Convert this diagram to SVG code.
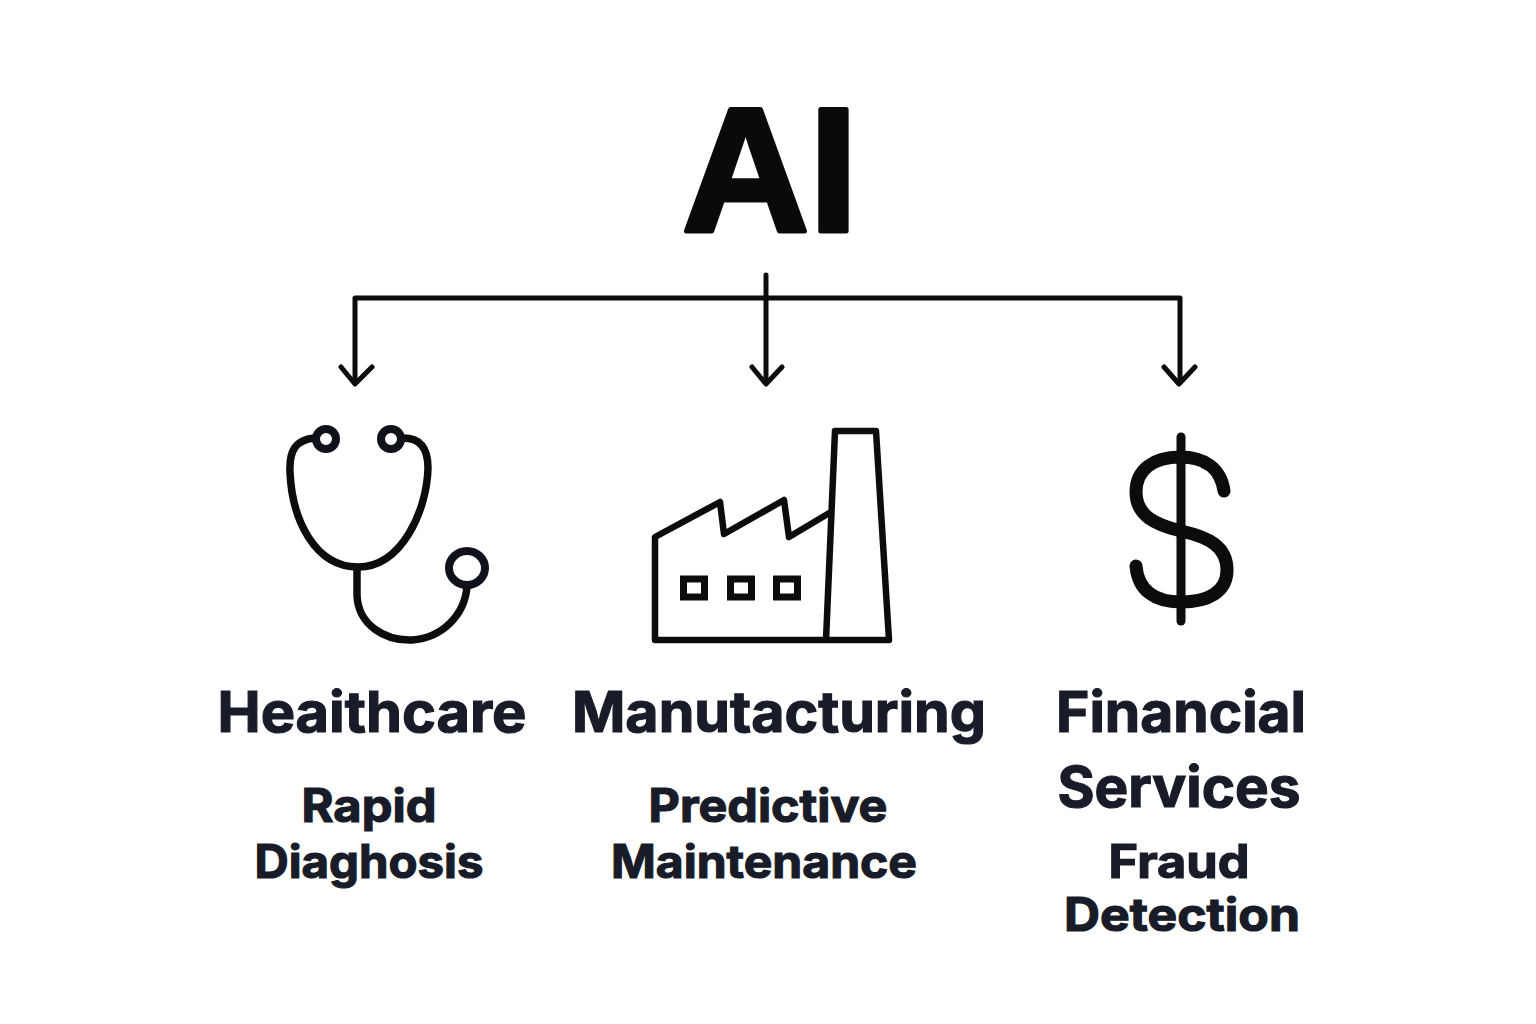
<svg xmlns="http://www.w3.org/2000/svg" width="1536" height="1024" viewBox="0 0 1536 1024">
<style>
.t{font-family:"Inter","Liberation Sans",sans-serif;fill:#181c28;stroke:#181c28;stroke-width:1.2;text-anchor:middle;font-weight:700}
.h{font-size:56px}
.s{font-size:46px}
.l{fill:none;stroke:#0c0c0c;stroke-width:5;stroke-linecap:round;stroke-linejoin:round}
.i{fill:none;stroke:#0c0c0c;stroke-width:6.5;stroke-linejoin:round;stroke-linecap:round}
.c{stroke-width:7.5}
.w{stroke-width:7;stroke-linejoin:miter}
.e{fill:#fff;stroke:#10121a;stroke-width:8}
</style>
<rect width="1536" height="1024" fill="#fff"/>
<g id="root"><text x="682" y="231" font-family="'Liberation Sans',Arial,sans-serif" font-weight="700" font-size="176" text-anchor="start" fill="#0a0a0a" stroke="#0a0a0a" stroke-width="5" stroke-linejoin="round">AI</text></g>
<g id="connectors">
<path class="l" d="M766 275V382M355 381V298H1180V381"/>
<path class="l" d="M341 367L355 384L372 367M752 367L766 384L782 367M1164 367L1179 384L1195 367"/>
</g>
<g id="healthcare">
<path class="i c" d="M314 438C296 440 289 450 290 472C292 520 315 567 358 567C402 567 427 510 428 468C428 448 420 438 403 438"/>
<circle class="e" cx="326" cy="439" r="10"/><circle class="e" cx="391" cy="439" r="10"/>
<path class="i c" d="M357 568V595C358 625 385 641 412 640C442 638 465 615 467 586"/>
<ellipse class="e" cx="467" cy="568" rx="18" ry="17"/>
<text class="t h" x="372" y="732" textLength="309" lengthAdjust="spacingAndGlyphs">Heaithcare</text>
<text class="t s" x="369" y="822" textLength="135" lengthAdjust="spacingAndGlyphs">Rapid</text><text class="t s" x="369" y="878" textLength="229" lengthAdjust="spacingAndGlyphs">Diaghosis</text>
</g>
<g id="manufacturing">
<path class="i" d="M655 640V537L720 502L724 534L784 500L789 537L831 512M835 431H876L889 640H655M835 431L826 640"/>
<rect class="i w" x="683.500" y="579" width="21" height="18"/><rect class="i w" x="730.500" y="579" width="21" height="18"/><rect class="i w" x="776.500" y="579" width="21" height="18"/>
<text class="t h" x="779" y="732" textLength="414" lengthAdjust="spacingAndGlyphs">Manutacturing</text>
<text class="t s" x="768" y="822" textLength="239" lengthAdjust="spacingAndGlyphs">Predictive</text><text class="t s" x="764" y="878" textLength="306" lengthAdjust="spacingAndGlyphs">Maintenance</text>
</g>
<g id="financial">
<path d="M1181 437V621" fill="none" stroke="#0c0c0c" stroke-width="9" stroke-linecap="round"/>
<path d="M1224 491C1221 468 1204 457 1180 457C1153 457 1136 470 1136 492C1136 516 1156 525 1181 531C1208 537 1227 546 1227 570C1227 592 1208 602 1181 602C1154 602 1138 590 1136 566" fill="none" stroke="#0c0c0c" stroke-width="13" stroke-linecap="round"/>
<text class="t h" x="1181" y="732" textLength="250" lengthAdjust="spacingAndGlyphs">Financial</text><text class="t h" x="1179" y="807" textLength="243" lengthAdjust="spacingAndGlyphs">Services</text>
<text class="t s" x="1179" y="878" textLength="141" lengthAdjust="spacingAndGlyphs">Fraud</text><text class="t s" x="1182" y="931" textLength="236" lengthAdjust="spacingAndGlyphs">Detection</text>
</g>
</svg>
